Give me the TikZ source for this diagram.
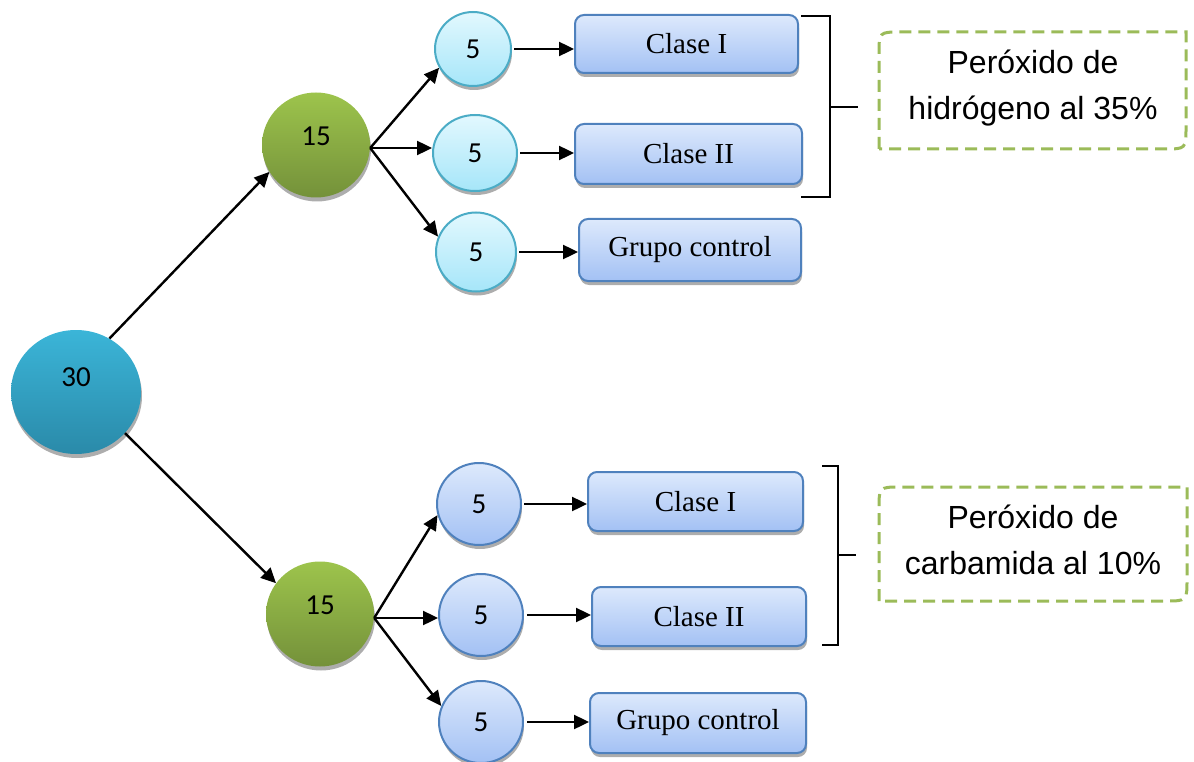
\documentclass[tikz,border=0pt]{standalone}
\usepackage{fontspec}
\setmainfont{Liberation Serif}
\newfontfamily\numfont{Carlito}
\newfontfamily\arialfont{Liberation Sans}
\usetikzlibrary{arrows.meta,shapes.geometric,shadows}
\definecolor{cbigtop}{HTML}{3BB5D8}
\definecolor{cbigbot}{HTML}{2A8AA9}
\definecolor{cgrtop}{HTML}{9DC44C}
\definecolor{cgrbot}{HTML}{74913A}
\definecolor{ccytop}{HTML}{E2F8FE}
\definecolor{ccybot}{HTML}{A6E6F9}
\definecolor{ccyline}{HTML}{4BACC6}
\definecolor{cbltop}{HTML}{DDE9FC}
\definecolor{cblbot}{HTML}{A3C1F4}
\definecolor{cblline}{HTML}{4F81BD}
\definecolor{cdash}{HTML}{9BBB59}
\tikzset{
  shad/.style={drop shadow={shadow xshift=1pt,shadow yshift=-4pt,fill=black!40,opacity=0.8}},
  bigc/.style={ellipse,inner sep=0pt,minimum width=130pt,minimum height=124pt,top color=cbigtop,bottom color=cbigbot,draw=none,shad},
  grc/.style={ellipse,inner sep=0pt,minimum width=108pt,minimum height=105pt,top color=cgrtop,bottom color=cgrbot,draw=none,shad},
  cyc/.style={ellipse,inner sep=0pt,minimum width=80pt,minimum height=76pt,top color=ccytop,bottom color=ccybot,draw=ccyline,line width=2pt,shad,font=\numfont\fontsize{29}{32}\selectfont},
  blc/.style={ellipse,inner sep=0pt,minimum width=84pt,minimum height=82pt,top color=cbltop,bottom color=cblbot,draw=cblline,line width=2pt,shad,font=\numfont\fontsize{29}{32}\selectfont},
  bbox/.style={rectangle,rounded corners=9pt,inner sep=0pt,top color=cbltop,bottom color=cblbot,draw=cblline,line width=2pt,shad,font=\fontsize{29}{32}\selectfont},
  numtxt/.style={font=\numfont\fontsize{29}{32}\selectfont,inner sep=0pt},
  dtxt/.style={font=\arialfont\fontsize{32}{46}\selectfont,align=center,inner sep=0pt},
  dbox/.style={draw=cdash,line width=3pt,dash pattern=on 12pt off 7pt},
  arr/.style={draw=black,line width=2.4pt,-{Triangle[length=15pt,width=14pt]}},
  brk/.style={draw=black,line width=1.8pt}
}
\begin{document}
\begin{tikzpicture}[x=1pt,y=-1pt]
\useasboundingbox (0,0) rectangle (1194,762);

% main circles
\node[bigc] (n30) at (76,392) {};
\node[numtxt] (t30) at (76,377) {30};
\node[grc] (g1) at (316,145) {};
\node[numtxt] (tg1) at (316,136) {15};
\node[grc] (g2) at (320,614) {};
\node[numtxt] (tg2) at (320,605) {15};

% top small circles
\node[cyc,minimum width=76pt,minimum height=74pt] (c1) at (473,49) {5};
\node[cyc,minimum width=84pt] (c2) at (475,153) {5};
\node[cyc,minimum height=79pt] (c3) at (476,252) {5};

% bottom small circles
\node[blc] (d1) at (479,504) {5};
\node[blc] (d2) at (481,615) {5};
\node[blc] (d3) at (481,722) {5};

% top boxes
\node[bbox,minimum width=223pt,minimum height=58pt] (b1) at (686.5,44) {Clase I};
\node[bbox,minimum width=227pt,minimum height=60pt] (b2) at (688.5,154) {Clase II};
\node[bbox,minimum width=222pt,minimum height=62pt] (b3) at (690,250) {Grupo control};

% bottom boxes
\node[bbox,minimum width=215pt,minimum height=59pt] (e1) at (695.5,501.5) {Clase I};
\node[bbox,minimum width=214pt,minimum height=59pt] (e2) at (699,616.5) {Clase II};
\node[bbox,minimum width=216pt,minimum height=60pt] (e3) at (698,723) {Grupo control};

% arrows from 30
\draw[arr] (n30.58) -- (g1.210);
\draw[arr] (n30.-40) -- (g2.145);

% arrows from top 15
\coordinate (s1) at ([yshift=-3pt]g1.east);
\draw[arr] (s1) -- (c1.209);
\draw[arr] (s1) -- (s1 -| c2.west);
\draw[arr] (s1) -- (c3.158);

% arrows from bottom 15
\coordinate (s2) at ([yshift=-4pt]g2.east);
\draw[arr] (s2) -- (d1.195);
\draw[arr] (s2) -- (s2 -| d2.west);
\draw[arr] (s2) -- (d3.158);

% arrows to boxes
\draw[arr,shorten <=2pt] (c1.east) -- (c1.east -| b1.west);
\draw[arr,shorten <=2pt] (c2.east) -- (c2.east -| b2.west);
\draw[arr,shorten <=2pt] (c3.east) -- (c3.east -| b3.west);
\draw[arr,shorten <=2pt] (d1.east) -- (d1.east -| e1.west);
\draw[arr,shorten <=3pt] (d2.east) -- (d2.east -| e2.west);
\draw[arr,shorten <=3pt] (d3.east) -- (d3.east -| e3.west);

% brackets
\draw[brk] (801,16) -- (830,16) -- (830,197) -- (801,197);
\draw[brk] (830,107) -- (858,107);
\draw[brk] (822,466) -- (838,466) -- (838,645) -- (822,645);
\draw[brk] (838,555) -- (856,555);

% dashed boxes
\draw[dbox] (879,149) -- (879,54) .. controls (879,32) .. (901,32) -- (1186,32) -- (1186,127) .. controls (1186,149) .. (1164,149) -- cycle;
\node[dtxt] (h1) at (1033,88) {Peróxido de\\hidrógeno al 35\%};
\draw[dbox] (879,601) -- (879,509) .. controls (879,487) .. (901,487) -- (1187,487) -- (1187,579) .. controls (1187,601) .. (1165,601) -- cycle;
\node[dtxt] (h2) at (1033,540) {Peróxido de\\carbamida al 10\%};
\end{tikzpicture}
\end{document}
